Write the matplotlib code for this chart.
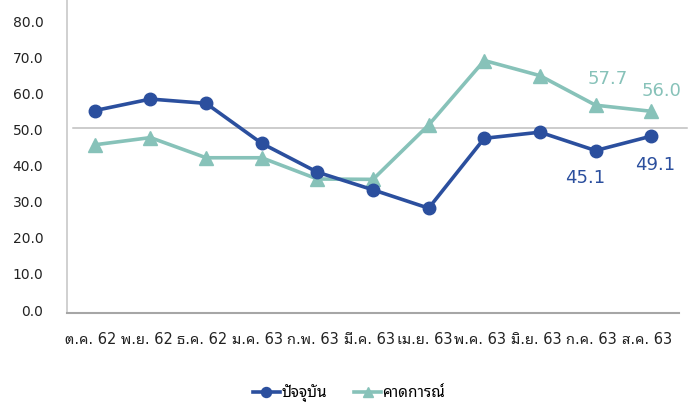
import matplotlib
matplotlib.use("Agg")
import matplotlib.pyplot as plt
from matplotlib.transforms import ScaledTranslation

plt.rcParams['font.family'] = ['DejaVu Sans', 'Noto Sans Thai Looped', 'IBM Plex Sans Thai Looped',
                               'Noto Sans Thai', 'Sarabun', 'Niramit']

categories = ['ต.ค. 62', 'พ.ย. 62', 'ธ.ค. 62', 'ม.ค. 63', 'ก.พ. 63', 'มี.ค. 63',
              'เม.ย. 63', 'พ.ค. 63', 'มิ.ย. 63', 'ก.ค. 63', 'ส.ค. 63']
current = [56.2, 59.4, 58.2, 47.1, 39.1, 34.2, 29.1, 48.5, 50.2, 45.1, 49.1]
expected = [46.7, 48.7, 43.1, 43.1, 37.2, 37.1, 52.2, 70.1, 65.9, 57.7, 56.0]
series_names = ['ปัจจุบัน', 'คาดการณ์']
y_ticks = [0, 10, 20, 30, 40, 50, 60, 70, 80]
ref_level = 51.4

blue = '#2B4F9E'
green = '#87C2B9'

fig = plt.figure(figsize=(6.94, 4.05), dpi=100)
ax = fig.add_axes([67/694, 92/405, 612/694, 1 - 92/405])

x = list(range(len(categories)))
ax.plot(x, current, color=blue, lw=2.6, marker='o', ms=9, label=series_names[0], zorder=4)
ax.plot(x, expected, color=green, lw=2.6, marker='^', ms=9.5, label=series_names[1], zorder=3)

ax.axhline(ref_level, xmin=0.01, xmax=1.013, color='#BFBFBF', lw=1.1, clip_on=False, zorder=1)

ax.set_xlim(-0.5, len(categories) - 0.5)
ax.set_ylim(0, 86.9)
ax.set_yticks(y_ticks)
ax.set_yticklabels([f'{v:.1f}' for v in y_ticks], fontsize=10, color='#222222')
ax.set_xticks(x)
ax.set_xticklabels(categories, fontsize=10.5, color='#222222')
ax.tick_params(axis='y', length=0, pad=17)
ax.tick_params(axis='x', length=0, pad=14)

for lab in ax.get_yticklabels():
    lab.set_transform(lab.get_transform() + ScaledTranslation(0, 3/100, fig.dpi_scale_trans))
for lab in ax.get_xticklabels():
    lab.set_transform(lab.get_transform() + ScaledTranslation(-4/100, 0, fig.dpi_scale_trans))

for s in ['top', 'right']:
    ax.spines[s].set_visible(False)
ax.spines['left'].set_color('#C8C8C8')
ax.spines['left'].set_linewidth(1.2)
ax.spines['bottom'].set_color('#A6A6A6')
ax.spines['bottom'].set_linewidth(1.5)

# data labels for the last two months
lab_kw = dict(textcoords='offset pixels', ha='center', va='center', fontsize=13)
ax.annotate(f'{expected[9]:.1f}', (9, expected[9]), xytext=(12, 26), color=green, **lab_kw)
ax.annotate(f'{expected[10]:.1f}', (10, expected[10]), xytext=(10, 20), color=green, **lab_kw)
ax.annotate(f'{current[9]:.1f}', (9, current[9]), xytext=(-10, -27), color=blue, **lab_kw)
ax.annotate(f'{current[10]:.1f}', (10, current[10]), xytext=(4, -29), color=blue, **lab_kw)

leg = fig.legend(loc='center', bbox_to_anchor=(349/694, 1 - 393/405), ncol=2, frameon=False,
                 fontsize=11, handlelength=1.75, handletextpad=0.1, columnspacing=1.8,
                 markerscale=0.8)

fig.savefig('out.png', dpi=100)
